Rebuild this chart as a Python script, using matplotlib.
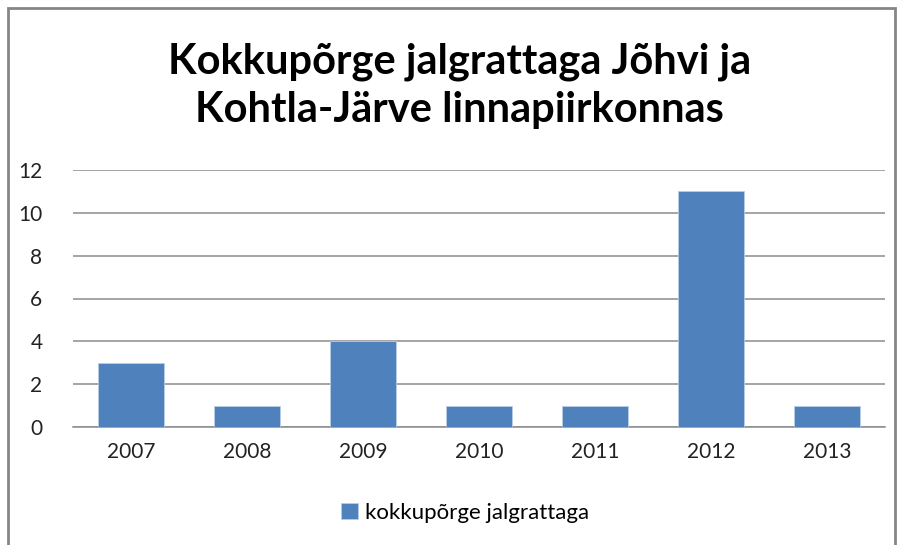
import matplotlib.pyplot as plt
from matplotlib.patches import Rectangle

years = ['2007', '2008', '2009', '2010', '2011', '2012', '2013']
counts = [3, 1, 4, 1, 1, 11, 1]
series_name = 'kokkupõrge jalgrattaga'
title = 'Kokkupõrge jalgrattaga Jõhvi ja\nKohtla-Järve linnapiirkonnas'

plt.rcParams['font.family'] = ['Lato', 'DejaVu Sans']

fig = plt.figure(figsize=(9.01, 5.45), dpi=100)
ax = fig.add_axes([73 / 901, 1 - 427 / 545, 812 / 901, 257 / 545])

x = range(len(years))
ax.bar(x, counts, width=0.57, color='#4F81BD', edgecolor='#B9CDE5', linewidth=0.6,
       label=series_name, zorder=3)

ax.set_xlim(-0.5, len(years) - 0.5)
ax.set_ylim(0, 12)
ax.set_yticks(range(0, 13, 2))
ax.set_xticks(list(x))
ax.set_xticklabels(years)
ax.tick_params(axis='both', length=0, labelsize=15, labelcolor='#222222')
ax.tick_params(axis='y', pad=22)
ax.tick_params(axis='x', pad=11)
ax.grid(axis='y', color='#8C8C8C', linewidth=1.1, zorder=0)
for s in ['top', 'right', 'left']:
    ax.spines[s].set_visible(False)
ax.spines['bottom'].set_color('#8C8C8C')
ax.spines['bottom'].set_linewidth(1.1)

fig.text(0.51, 1 - 86 / 545, title, ha='center', va='center', fontsize=30,
         fontweight='bold', linespacing=1.32)

fig.legend(loc='center', bbox_to_anchor=(0.516, 1 - 513 / 545), frameon=False,
           fontsize=16, handlelength=0.75, handleheight=0.75, handletextpad=0.3)

# grey outer frame like the Excel chart area
fig.patches.append(Rectangle((8 / 901, -0.05), 887 / 901, 1 - 8 / 545 + 0.05,
                             transform=fig.transFigure, fill=False,
                             edgecolor='#868686', linewidth=2))

fig.savefig('out.png', dpi=100)
